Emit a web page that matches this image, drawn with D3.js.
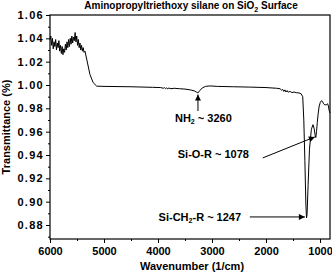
<!DOCTYPE html>
<html>
<head>
<meta charset="utf-8">
<script src="https://cdn.jsdelivr.net/npm/d3@7/dist/d3.min.js"></script>
<style>
body { margin: 0; background: #fff; }
svg { display: block; font-family: "Liberation Sans", Arial, sans-serif; }
</style>
</head>
<body>
<div id="chart"></div>
<script>

/* ==========================
   Data
========================== */

const wavenumber = [
6000,5985,5970,5955,5940,5925,5910,5895,5880,5865,5850,5835,5820,5805,5790,5775,5760,5745,5730,5715,
5700,5685,5670,5655,5640,5625,5610,5595,5580,5565,5550,5535,5520,5505,5490,5475,5460,5445,5430,5415,
5400,5385,5370,5352,5260,5200,5135,5000,4500,4100,3950,3900,3880,3860,3840,3820,3800,3760,3700,3600,
3500,3400,3330,3290,3260,3230,3180,3120,3040,2900,2600,2300,2000,1800,1740,1710,1690,1670,1650,1630,
1610,1590,1560,1520,1480,1440,1390,1350,1320,1300,1280,1262,1250,1240,1220,1195,1160,1130,1110,1090,
1078,1065,1050,1035,1015,995,975,955,935,910,880,860,845,830,815
];

const transmittance = [
1.039,1.042,1.034,1.040,1.031,1.037,1.033,1.039,1.030,1.036,1.032,1.038,1.029,1.034,1.027,1.033,1.026,1.031,1.028,1.035,
1.030,1.037,1.032,1.039,1.033,1.040,1.035,1.042,1.036,1.041,1.038,1.045,1.037,1.042,1.034,1.039,1.032,1.036,1.030,1.034,
1.029,1.032,1.028,1.029,1.009,1.002,0.999,0.9988,0.9985,0.998,0.9978,0.9972,0.9978,0.9968,0.9976,0.9966,0.9974,0.9968,0.9972,0.9968,
0.9965,0.9958,0.9950,0.9940,0.9932,0.9950,0.9975,0.9988,0.9992,0.9988,0.9985,0.9982,0.9978,0.9972,0.9968,0.9955,0.9962,0.9945,0.9958,0.9940,
0.9952,0.9938,0.9946,0.9935,0.9940,0.9934,0.9932,0.9925,0.990,0.970,0.935,0.898,0.886,0.889,0.915,0.945,0.962,0.966,0.963,0.957,
0.955,0.960,0.968,0.975,0.982,0.985,0.9865,0.986,0.984,0.983,0.983,0.984,0.982,0.978,0.976
];

const xTicks = [6000,5000,4000,3000,2000,1000];
const xMinorTicks = [5500,4500,3500,2500,1500];
const yTicks = [0.88,0.90,0.92,0.94,0.96,0.98,1.00,1.02,1.04,1.06];
const yMinorTicks = [0.87,0.89,0.91,0.93,0.95,0.97,0.99,1.01,1.03,1.05];

// annotation: label, label position, arrow start, arrow tip (wavenumber, transmittance)
const notes = [
{ label:["NH","2"," ~ 3260"], tx:3160, ty:0.9685, x1:3260, y1:0.9777, x2:3260, y2:0.9918 },
{ label:["Si-O-R ~ 1078"], tx:2975, ty:0.9375, x1:2060, y1:0.9375, x2:1095, y2:0.9555 },
{ label:["Si-CH","2","-R ~ 1247"], tx:3225, ty:0.8835, x1:2300, y1:0.8869, x2:1280, y2:0.8869 }
];

/* ==========================
   Chart
========================== */

const width = 332;
const height = 275;
const plotLeft = 50, plotTop = 15, plotRight = 330, plotBottom = 239;

const svg = d3.select("#chart")
.append("svg")
.attr("width", width)
.attr("height", height);

const x = d3.scaleLinear()
.domain([6000, 815])
.range([plotLeft, plotRight]);

const y = d3.scaleLinear()
.domain([0.868, 1.06])
.range([plotBottom, plotTop]);

svg.append("defs")
.append("marker")
.attr("id", "head")
.attr("viewBox", "0 0 10 10")
.attr("refX", 10)
.attr("refY", 5)
.attr("markerWidth", 7)
.attr("markerHeight", 6)
.attr("markerUnits", "userSpaceOnUse")
.attr("orient", "auto")
.append("path")
.attr("d", "M0,0L10,5L0,10Z")
.attr("fill", "#000");

// title
svg.append("text")
.attr("x", 191)
.attr("y", 9)
.attr("text-anchor", "middle")
.attr("font-size", 10)
.attr("font-weight", "bold")
.call(t => {
t.append("tspan").text("Aminopropyltriethoxy silane on SiO");
t.append("tspan").attr("font-size", 7).attr("dy", 2.5).text("2");
t.append("tspan").attr("dy", -2.5).text(" Surface");
});

/* ==========================
   Axes
========================== */

svg.append("g")
.attr("transform", `translate(0,${plotBottom})`)
.call(d3.axisBottom(x).tickValues(xTicks).tickFormat(d3.format("d")).tickSize(4).tickSizeOuter(0).tickPadding(4));

svg.append("g")
.attr("transform", `translate(0,${plotBottom})`)
.call(d3.axisBottom(x).tickValues(xMinorTicks).tickFormat("").tickSize(2).tickSizeOuter(0));

const yAxis = svg.append("g")
.attr("transform", `translate(${plotLeft},0)`)
.call(d3.axisLeft(y).tickValues(yTicks).tickFormat(d3.format(".2f")).tickSize(4).tickSizeOuter(0).tickPadding(2));

svg.append("g")
.attr("transform", `translate(${plotLeft},0)`)
.call(d3.axisLeft(y).tickValues(yMinorTicks).tickFormat("").tickSize(2).tickSizeOuter(0));

svg.selectAll(".domain").remove();

svg.selectAll(".tick line")
.attr("stroke", "#000");

svg.selectAll(".tick text")
.attr("fill", "#000")
.attr("font-size", 11)
.attr("font-weight", "bold")
.attr("font-family", "Liberation Sans, Arial, sans-serif");

yAxis.selectAll(".tick text")
.attr("letter-spacing", 1.3);

svg.append("rect")
.attr("x", plotLeft)
.attr("y", plotTop)
.attr("width", plotRight - plotLeft)
.attr("height", plotBottom - plotTop)
.attr("fill", "none")
.attr("stroke", "#000")
.attr("stroke-width", 1.2);

svg.append("text")
.attr("x", 192)
.attr("y", 270)
.attr("text-anchor", "middle")
.attr("font-size", 11)
.attr("font-weight", "bold")
.text("Wavenumber (1/cm)");

svg.append("text")
.attr("transform", `translate(9.5,${(plotTop + plotBottom) / 2}) rotate(-90)`)
.attr("text-anchor", "middle")
.attr("font-size", 11)
.attr("font-weight", "bold")
.text("Transmittance (%)");

/* ==========================
   Spectrum
========================== */

const points = wavenumber.map((w, i) => [w, transmittance[i]]);

const line = d3.line()
.x(d => x(d[0]))
.y(d => y(d[1]));

svg.append("path")
.datum(points)
.attr("d", line)
.attr("fill", "none")
.attr("stroke", "#000")
.attr("stroke-width", 1)
.attr("stroke-linejoin", "round");

/* ==========================
   Annotations
========================== */

notes.forEach(n => {

svg.append("line")
.attr("x1", x(n.x1))
.attr("y1", y(n.y1))
.attr("x2", x(n.x2))
.attr("y2", y(n.y2))
.attr("stroke", "#000")
.attr("stroke-width", 1)
.attr("marker-end", "url(#head)");

const t = svg.append("text")
.attr("x", x(n.tx))
.attr("y", y(n.ty))
.attr("text-anchor", "middle")
.attr("font-size", 11)
.attr("font-weight", "bold");

n.label.forEach((part, i) => {
if(i === 1){
t.append("tspan").attr("font-size", 7).attr("dy", 2.5).text(part);
}else if(i === 2){
t.append("tspan").attr("dy", -2.5).text(part);
}else{
t.append("tspan").text(part);
}
});

});

</script>
</body>
</html>
